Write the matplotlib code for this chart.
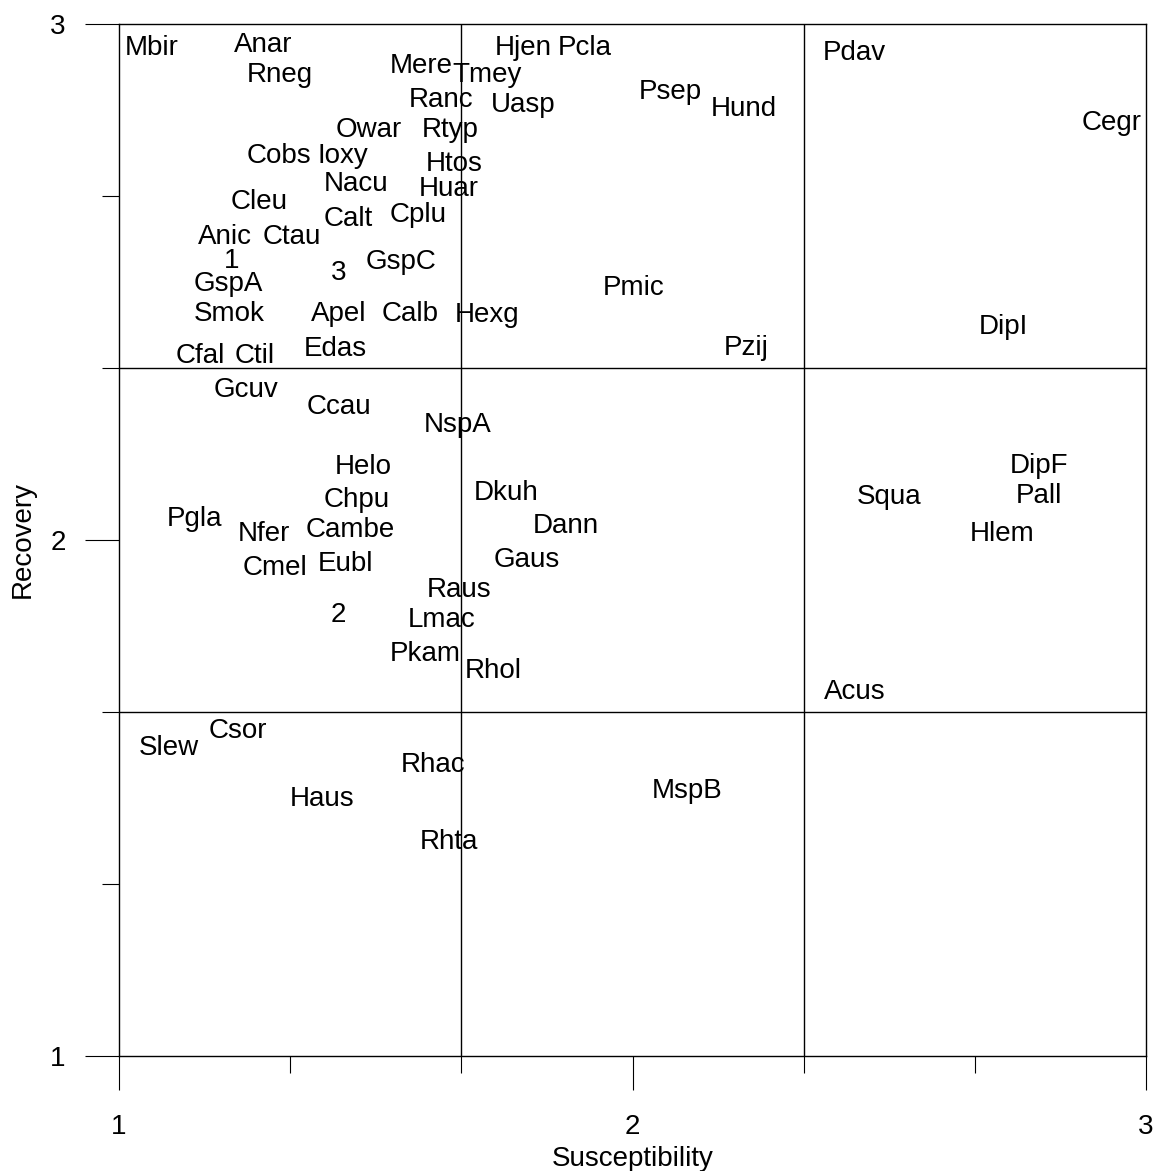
import numpy as np
import matplotlib
matplotlib.use("Agg")
import matplotlib.pyplot as plt
import matplotlib.transforms as mtransforms
from matplotlib.ticker import MultipleLocator

plt.rcParams['font.family'] = ['Liberation Sans', 'DejaVu Sans']

# species labels with (susceptibility, recovery) positions
names = ["Mbir", "Anar", "Rneg", "Mere", "Tmey", "Hjen", "Pcla", "Ranc", "Uasp", "Psep",
         "Hund", "Pdav", "Cegr", "Owar", "Rtyp", "Cobs", "Ioxy", "Htos", "Nacu", "Huar",
         "Cleu", "Calt", "Cplu", "Anic", "Ctau", "1", "3", "GspC", "GspA", "Pmic",
         "Smok", "Apel", "Calb", "Hexg", "DipI", "Cfal", "Ctil", "Edas", "Pzij", "Gcuv",
         "Ccau", "NspA", "Helo", "DipF", "Chpu", "Dkuh", "Squa", "Pall", "Pgla", "Cambe",
         "Dann", "Nfer", "Hlem", "Cmel", "Eubl", "Gaus", "Raus", "2", "Lmac", "Pkam",
         "Rhol", "Acus", "Csor", "Slew", "Rhac", "MspB", "Haus", "Rhta"]
susceptibility = [1.064, 1.280, 1.314, 1.588, 1.717, 1.787, 1.907, 1.627, 1.787, 2.073,
                  2.217, 2.431, 2.934, 1.487, 1.645, 1.312, 1.436, 1.652, 1.462, 1.643,
                  1.273, 1.446, 1.582, 1.206, 1.337, 1.220, 1.428, 1.549, 1.212, 2.003,
                  1.214, 1.428, 1.567, 1.717, 2.722, 1.158, 1.265, 1.421, 2.221, 1.247,
                  1.428, 1.660, 1.475, 2.792, 1.462, 1.754, 2.500, 2.792, 1.148, 1.450,
                  1.870, 1.282, 2.720, 1.304, 1.442, 1.795, 1.662, 1.428, 1.629, 1.596,
                  1.728, 2.433, 1.232, 1.097, 1.611, 2.106, 1.395, 1.643]
recovery = [2.957, 2.963, 2.905, 2.922, 2.905, 2.957, 2.957, 2.857, 2.847, 2.872,
            2.839, 2.948, 2.812, 2.798, 2.798, 2.748, 2.748, 2.733, 2.694, 2.684,
            2.659, 2.626, 2.634, 2.591, 2.591, 2.545, 2.521, 2.543, 2.500, 2.492,
            2.442, 2.442, 2.442, 2.440, 2.417, 2.360, 2.360, 2.374, 2.376, 2.295,
            2.262, 2.227, 2.145, 2.147, 2.081, 2.095, 2.087, 2.089, 2.045, 2.023,
            2.031, 2.016, 2.016, 1.950, 1.957, 1.965, 1.907, 1.859, 1.849, 1.783,
            1.750, 1.709, 1.634, 1.601, 1.568, 1.517, 1.502, 1.419]

fig = plt.figure(figsize=(11.61, 11.71), dpi=100)
ax = fig.add_axes([119/1161, 115/1171, 1027/1161, 1032/1171])

# quadrant lines
for v in [5/3, 7/3]:
    ax.axvline(v, color="black", lw=1)
    ax.axhline(v, color="black", lw=1)

# labels sit a touch lower than matplotlib's bbox centre
shift = ax.transData + mtransforms.ScaledTranslation(0, -2/100, fig.dpi_scale_trans)
for n, x, y in zip(names, susceptibility, recovery):
    ax.text(x, y, n, fontsize=20, ha="center", va="center", transform=shift)

ax.set_xlim(1, 3)
ax.set_ylim(1, 3)
ax.xaxis.set_major_locator(MultipleLocator(1))
ax.yaxis.set_major_locator(MultipleLocator(1))
ax.xaxis.set_minor_locator(MultipleLocator(1/3))
ax.yaxis.set_minor_locator(MultipleLocator(1/3))
ax.tick_params(which="major", length=24.5, width=0.8, labelsize=20)
ax.tick_params(which="minor", length=12.2, width=0.8)
ax.tick_params(axis="x", which="major", pad=17.5)
ax.tick_params(axis="y", which="major", pad=14)
for s in ax.spines.values():
    s.set_linewidth(1)

ax.set_xlabel("Susceptibility", fontsize=20, labelpad=4)
ax.set_ylabel("Recovery", fontsize=20, labelpad=10)

fig.savefig("out.png", dpi=100)
